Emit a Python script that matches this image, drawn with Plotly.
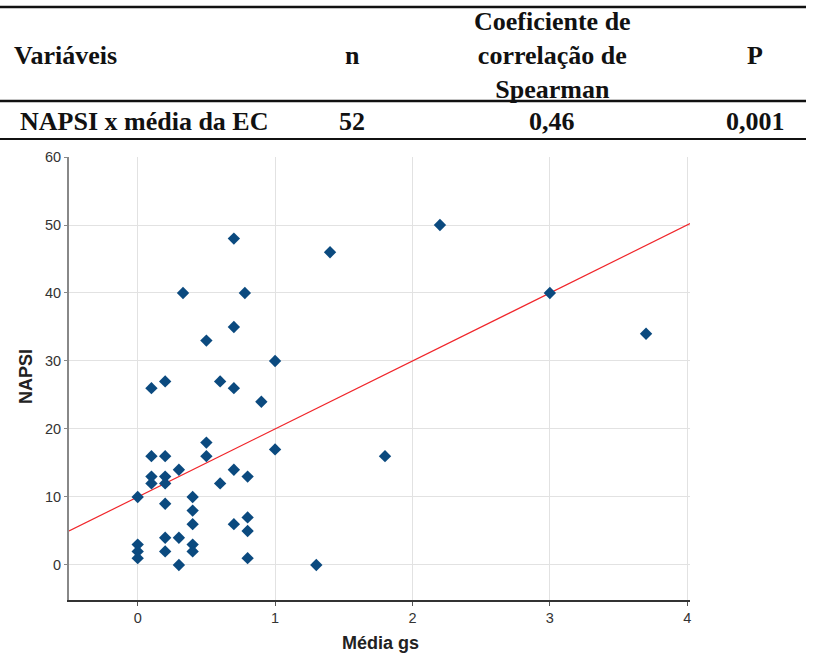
import numpy as np
import plotly.graph_objects as go

# Correlation summary table
header_cols = ["Variáveis", "n", "Coeficiente de<br>correlação de<br>Spearman", "P"]
row_cols = ["NAPSI x média da EC", "52", "0,46", "0,001"]

# Scatter data: mean gs score vs NAPSI
media_gs = [0, 0, 0, 0,
            0.1, 0.1, 0.1, 0.1,
            0.2, 0.2, 0.2, 0.2, 0.2, 0.2, 0.2,
            0.3, 0.3, 0.3,
            0.33,
            0.4, 0.4, 0.4, 0.4, 0.4,
            0.5, 0.5, 0.5,
            0.6, 0.6,
            0.7, 0.7, 0.7, 0.7, 0.7,
            0.78,
            0.8, 0.8, 0.8, 0.8,
            0.9,
            1.0, 1.0,
            1.3, 1.4, 1.8, 2.2, 3.0, 3.7]
napsi = [10, 3, 2, 1,
         26, 16, 13, 12,
         27, 16, 13, 12, 9, 4, 2,
         14, 4, 0,
         40,
         10, 8, 6, 3, 2,
         33, 18, 16,
         27, 12,
         48, 35, 26, 14, 6,
         40,
         13, 7, 5, 1,
         24,
         30, 17,
         0, 46, 16, 50, 40, 34]

# Fitted trend line
fit_intercept = 10.0
fit_slope = 10.0

x_range = [-0.5, 4.02]
y_range = [-5.15, 60]

W, H = 816, 654
L, R, T, B = 69, 690, 157, 600


def px(x):
    return (x - L) / (R - L)


def py(y):
    return (B - y) / (B - T)


fig = go.Figure()

fx = np.array(x_range)
fig.add_trace(go.Scatter(
    x=fx, y=fit_intercept + fit_slope * fx, mode="lines",
    line=dict(color="#f0262b", width=1.2), hoverinfo="skip", showlegend=False,
))
fig.add_trace(go.Scatter(
    x=media_gs, y=napsi, mode="markers",
    marker=dict(symbol="diamond", size=9.5, color="#0b4a7f"),
    showlegend=False,
))

tick_font = dict(family="Liberation Sans, Arial, sans-serif", size=14.5, color="#333333")
title_font = dict(family="Liberation Sans, Arial, sans-serif", size=18, color="#222222")

fig.update_xaxes(
    range=x_range, tickvals=[0, 1, 2, 3, 4], ticktext=["0", "1", "2", "3", "4"],
    showgrid=True, gridcolor="#e2e2e2", gridwidth=1, zeroline=False,
    showline=True, linecolor="#333333", linewidth=1.5,
    ticks="outside", ticklen=4, tickcolor="#555555", tickfont=tick_font,
)
fig.update_yaxes(
    range=y_range, tickvals=[0, 10, 20, 30, 40, 50, 60],
    showgrid=True, gridcolor="#e2e2e2", gridwidth=1, zeroline=False,
    showline=True, linecolor="#888888", linewidth=2,
    ticks="outside", ticklen=3, tickcolor="#888888", tickfont=tick_font,
)

serif = dict(family="Liberation Serif, Times New Roman, serif", size=26, color="#111111")

shapes = []
for y_rule, w in [(7, 2.5), (101, 2.5), (139, 2)]:
    shapes.append(dict(type="line", xref="paper", yref="paper",
                       x0=px(0), x1=px(806), y0=py(y_rule), y1=py(y_rule),
                       line=dict(color="#111111", width=w)))

col_x = [12, 352, 552, 755]
anchors = ["left", "center", "center", "center"]
annotations = []
for text, cx, anc in zip(header_cols, col_x, anchors):
    annotations.append(dict(
        text="<b>" + text + "</b>", x=px(cx), y=py(55), xref="paper", yref="paper",
        xanchor=anc, yanchor="middle", showarrow=False, font=serif, align="center",
    ))
row_x = [18, 352, 552, 755]
for text, cx, anc in zip(row_cols, row_x, anchors):
    annotations.append(dict(
        text="<b>" + text + "</b>", x=px(cx), y=py(121), xref="paper", yref="paper",
        xanchor=anc, yanchor="middle", showarrow=False, font=serif,
    ))

# Axis titles
annotations.append(dict(
    text="<b>Média gs</b>", x=px(380), y=py(643), xref="paper", yref="paper",
    xanchor="center", yanchor="middle", showarrow=False, font=title_font,
))
annotations.append(dict(
    text="<b>NAPSI</b>", x=px(26), y=py(377), xref="paper", yref="paper",
    xanchor="center", yanchor="middle", showarrow=False, font=title_font, textangle=-90,
))

fig.update_layout(
    width=W, height=H,
    margin=dict(l=L, r=W - R, t=T, b=H - B),
    paper_bgcolor="white", plot_bgcolor="white",
    shapes=shapes, annotations=annotations,
)

fig.write_html("out.html")
